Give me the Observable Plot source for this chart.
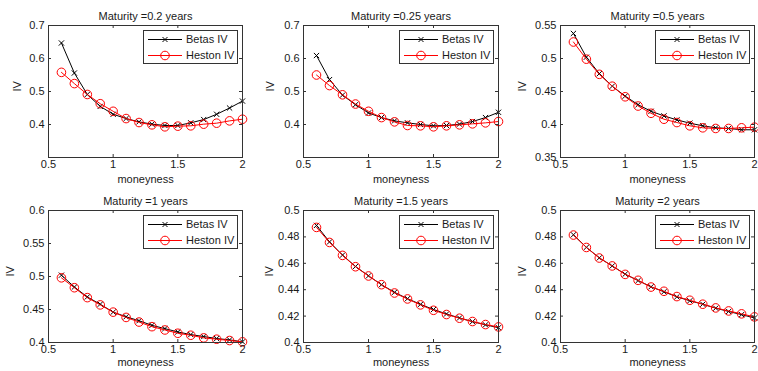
<!DOCTYPE html>
<html>
<head>
<meta charset="utf-8">
<script src="https://cdn.jsdelivr.net/npm/d3@7"></script>
<script src="https://cdn.jsdelivr.net/npm/@observablehq/plot@0.6"></script>
<style>
  html, body { margin: 0; padding: 0; background: #fff; }
  #chart { position: relative; width: 758px; height: 371px; overflow: hidden; font-family: "Liberation Sans", Arial, sans-serif; }
  #chart svg { position: absolute; }
</style>
</head>
<body>
<div id="chart"></div>
<script>
// ---- data ----
const moneyness = [0.6, 0.7, 0.8, 0.9, 1.0, 1.1, 1.2, 1.3, 1.4, 1.5, 1.6, 1.7, 1.8, 1.9, 2.0];

const titles = ["Maturity =0.2 years", "Maturity =0.25 years", "Maturity =0.5 years",
                "Maturity =1 years", "Maturity =1.5 years", "Maturity =2 years"];
const seriesNames = ["Betas IV", "Heston IV"];

const betas02   = [0.647,0.556,0.491,0.455,0.431,0.418,0.408,0.401,0.397,0.397,0.405,0.415,0.431,0.450,0.471];
const heston02  = [0.558,0.524,0.491,0.463,0.440,0.418,0.406,0.399,0.393,0.395,0.396,0.401,0.404,0.411,0.416];
const betas025  = [0.609,0.536,0.489,0.460,0.435,0.421,0.411,0.405,0.400,0.396,0.397,0.401,0.409,0.421,0.437];
const heston025 = [0.550,0.518,0.490,0.462,0.440,0.421,0.408,0.397,0.396,0.393,0.396,0.399,0.402,0.405,0.409];
const betas05   = [0.538,0.502,0.477,0.458,0.443,0.430,0.420,0.413,0.407,0.402,0.398,0.395,0.394,0.392,0.392];
const heston05  = [0.525,0.499,0.476,0.458,0.442,0.428,0.417,0.408,0.403,0.398,0.395,0.394,0.394,0.395,0.396];
const betas1    = [0.502,0.484,0.469,0.458,0.446,0.439,0.433,0.426,0.421,0.416,0.412,0.409,0.406,0.404,0.401];
const heston1   = [0.498,0.483,0.468,0.457,0.446,0.438,0.431,0.424,0.419,0.414,0.411,0.407,0.405,0.403,0.401];
const betas15   = [0.4887,0.4762,0.4662,0.4576,0.4505,0.4438,0.4380,0.4332,0.4289,0.4250,0.4216,0.4186,0.4158,0.4134,0.4112];
const heston15  = [0.4872,0.4758,0.4660,0.4574,0.4504,0.4438,0.4375,0.4330,0.4285,0.4244,0.4212,0.4184,0.4159,0.4136,0.4118];
const betas2    = [0.4816,0.4721,0.4641,0.4580,0.4518,0.4469,0.4422,0.4384,0.4346,0.4316,0.4290,0.4260,0.4235,0.4211,0.4186];
const heston2   = [0.4814,0.4720,0.4640,0.4580,0.4516,0.4471,0.4420,0.4388,0.4348,0.4320,0.4290,0.4262,0.4239,0.4217,0.4194];

const xDomain = [0.5, 2];
const xTicks = [0.5, 1, 1.5, 2];
const yDomains = [[0.3, 0.7], [0.3, 0.7], [0.35, 0.55], [0.4, 0.6], [0.4, 0.5], [0.4, 0.5]];
const yTicks = [
  [0.4, 0.5, 0.6, 0.7],
  [0.4, 0.5, 0.6, 0.7],
  [0.35, 0.4, 0.45, 0.5, 0.55],
  [0.4, 0.45, 0.5, 0.55, 0.6],
  [0.4, 0.42, 0.44, 0.46, 0.48, 0.5],
  [0.4, 0.42, 0.44, 0.46, 0.48, 0.5]
];
const betasAll = [betas02, betas025, betas05, betas1, betas15, betas2];
const hestonAll = [heston02, heston025, heston05, heston1, heston15, heston2];

// ---- layout (frame boxes in page pixels) ----
const colLeft = [48, 303, 560];
const colWidth = [194, 195, 194];
const rowTop = [25, 210];
const frameH = 132;
const ylabDx = [-31, -33, -38, -38, -34, -38];
const xlabDy = [25, 25, 25, 23, 23, 23];

const textColor = "#1a1a1a";
const axisColor = "#333";
const chart = document.getElementById("chart");

const mL = 48, mT = 25, mR = 4, mB = 30, tickPx = 3;

for (let p = 0; p < 6; p++) {
  const col = p % 3, row = Math.floor(p / 3);
  const fx = colLeft[col], fy = rowTop[row], fw = colWidth[col];
  const yd = yDomains[p];
  const data = moneyness.map((m, i) => ({m, b: betasAll[p][i], h: hestonAll[p][i]}));
  const ty = (yd[1] - yd[0]) * tickPx / frameH;
  const tx = (xDomain[1] - xDomain[0]) * tickPx / fw;

  const svg = Plot.plot({
    width: fw + mL + mR,
    height: frameH + mT + mB,
    marginLeft: mL, marginTop: mT, marginRight: mR, marginBottom: mB,
    style: {background: "transparent", overflow: "visible", fontFamily: "'Liberation Sans', Arial, sans-serif", fontSize: "11px", color: textColor},
    x: {domain: xDomain, label: null},
    y: {domain: yd, label: null},
    marks: [
      Plot.line(data, {x: "m", y: "b", stroke: "#000", strokeWidth: 1}),
      Plot.dot(data, {x: "m", y: "b", symbol: "times", r: 2.5, stroke: "#000", strokeWidth: 1}),
      Plot.line(data, {x: "m", y: "h", stroke: "#ff0000", strokeWidth: 1}),
      Plot.dot(data, {x: "m", y: "h", r: 4.3, stroke: "#ff0000", strokeWidth: 1, fill: "none"}),
      Plot.frame({stroke: axisColor, strokeWidth: 1}),
      Plot.ruleX(xTicks, {x: d => d, y1: yd[0], y2: yd[0] + ty, stroke: axisColor}),
      Plot.ruleX(xTicks, {x: d => d, y1: yd[1], y2: yd[1] - ty, stroke: axisColor}),
      Plot.ruleY(yTicks[p], {y: d => d, x1: xDomain[0], x2: xDomain[0] + tx, stroke: axisColor}),
      Plot.ruleY(yTicks[p], {y: d => d, x1: xDomain[1], x2: xDomain[1] - tx, stroke: axisColor}),
      Plot.axisX(xTicks, {tickSize: 0, tickPadding: 3, tickFormat: d => String(d), label: null, fill: textColor}),
      Plot.axisY(yTicks[p], {tickSize: 0, tickPadding: 4, tickFormat: d => String(d), label: null, fill: textColor}),
      Plot.text([titles[p]], {text: d => d, frameAnchor: "top", dy: -13, fill: textColor}),
      Plot.text(["moneyness"], {text: d => d, frameAnchor: "bottom", dy: xlabDy[p], fill: textColor}),
      Plot.text(["IV"], {text: d => d, frameAnchor: "left", dx: ylabDx[p], rotate: -90, fill: textColor})
    ]
  });
  svg.style.left = (fx - mL) + "px";
  svg.style.top = (fy - mT) + "px";
  chart.appendChild(svg);

  // legend box (decoration)
  const lw = 95, lh = 34;
  const leg = d3.create("svg")
    .attr("width", lw).attr("height", lh)
    .style("left", (fx + fw - 4 - lw) + "px")
    .style("top", (fy + 5) + "px")
    .style("font-family", "'Liberation Sans', Arial, sans-serif")
    .style("font-size", "11px");
  leg.append("rect").attr("x", 0.5).attr("y", 0.5).attr("width", lw - 1).attr("height", lh - 1)
    .attr("fill", "#fff").attr("stroke", axisColor);
  const rows = [{y: 9.5, color: "#000", name: seriesNames[0], sym: "x"},
                {y: 25.5, color: "#ff0000", name: seriesNames[1], sym: "o"}];
  rows.forEach(r => {
    leg.append("line").attr("x1", 5).attr("x2", 39).attr("y1", r.y).attr("y2", r.y)
      .attr("stroke", r.color).attr("stroke-width", 1);
    if (r.sym === "x") {
      leg.append("path").attr("d", `M${22-2.5},${r.y-2.5}L${22+2.5},${r.y+2.5}M${22-2.5},${r.y+2.5}L${22+2.5},${r.y-2.5}`)
        .attr("stroke", r.color).attr("fill", "none");
    } else {
      leg.append("circle").attr("cx", 22).attr("cy", r.y).attr("r", 4.3)
        .attr("stroke", r.color).attr("fill", "none");
    }
    leg.append("text").attr("x", 43).attr("y", r.y).attr("dy", "0.35em")
      .attr("fill", textColor).text(r.name);
  });
  chart.appendChild(leg.node());
}
</script>
</body>
</html>
